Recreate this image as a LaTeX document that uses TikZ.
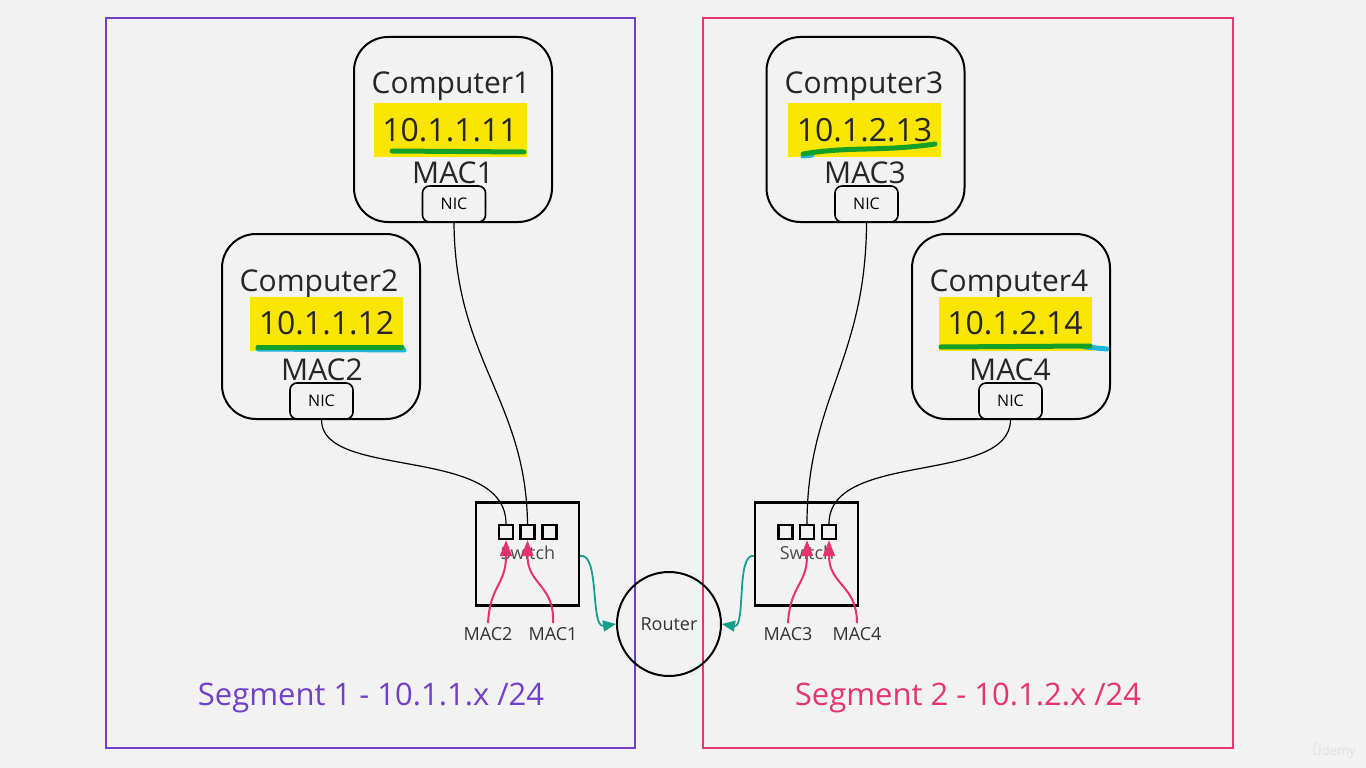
\documentclass[tikz,border=0pt]{standalone}
\usepackage{fontspec}
\setmainfont{Open Sans}
\usetikzlibrary{arrows.meta}
\definecolor{bg}{RGB}{242,242,242}
\definecolor{segone}{RGB}{112,64,200}
\definecolor{segtwo}{RGB}{232,52,110}
\definecolor{hilite}{RGB}{250,230,0}
\definecolor{pen}{RGB}{20,160,40}
\definecolor{pencyan}{RGB}{30,180,220}
\definecolor{macpink}{RGB}{232,50,110}
\definecolor{uplink}{RGB}{22,160,140}

\begin{document}
\begin{tikzpicture}[x=1pt, y=-1pt,
  pc/.style={rectangle, draw, line width=2pt, rounded corners=34pt, minimum width=198pt, minimum height=185pt},
  big/.style={inner sep=0pt, font=\fontsize{30}{36}\selectfont, text=black!85},
  ip/.style={big, font=\fontsize{32}{38}\selectfont, fill=hilite, minimum width=153pt, minimum height=54pt},
  nic/.style={rectangle, draw, fill=bg, line width=1.6pt, rounded corners=7pt, minimum width=63pt, minimum height=36pt, font=\fontsize{16}{18}\selectfont},
  switchbox/.style={rectangle, draw, line width=2.2pt, minimum size=103pt},
  port/.style={rectangle, draw, line width=2.4pt, minimum size=14pt, inner sep=0pt},
  small/.style={inner sep=4pt, font=\fontsize{18}{21}\selectfont, text=black!80},
  wire/.style={line width=1.2pt},
  macarr/.style={-{Triangle[length=16pt, width=12pt]}, line width=2pt, macpink},
  uparr/.style={-{Triangle[length=13pt, width=11pt]}, line width=1.8pt, uplink},
  uline/.style={line width=5pt, line cap=round}
]
  \useasboundingbox (0,0) rectangle (1366,768);
  \fill[bg] (0,0) rectangle (1366,768);

  % Segments
  \draw[segone, line width=2.5pt] (106,18) rectangle (635,748);
  \draw[segtwo, line width=2.5pt] (703,18) rectangle (1233,748);
  \node[font=\fontsize{31}{37}\selectfont, text=segone] (seg1) at (371,698) {Segment 1 - 10.1.1.x /24};
  \node[font=\fontsize{31}{37}\selectfont, text=segtwo] (seg2) at (968,698) {Segment 2 - 10.1.2.x /24};

  % Computers
  \node[pc] (c1) at (453,129.5) {};
  \node[big] (n1) at (451,86) {Computer1};
  \node[ip] (ip1) at (450,130) {10.1.1.11};
  \draw[uline, pen] (392,151) -- (524,152);
  \node[big] (m1) at (453,173) {MAC1};
  \node[nic] (nic1) at (454,204) {NIC};

  \node[pc] (c2) at (321,326.5) {};
  \node[big] (n2) at (319,284) {Computer2};
  \node[ip] (ip2) at (326.5,323.5) {10.1.1.12};
  \draw[uline, pencyan] (258,349) -- (404,350);
  \draw[uline, pen] (258,347) -- (402,347);
  \node[big] (m2) at (322,370) {MAC2};
  \node[nic] (nic2) at (321.5,401) {NIC};

  \node[pc] (c3) at (865.5,129.5) {};
  \node[big] (n3) at (864,86) {Computer3};
  \node[ip] (ip3) at (864.5,130) {10.1.2.13};
  \draw[uline, pencyan] (803,156) -- (812,155);
  \draw[uline, pen] (803,154) .. controls (850,146) and (880,152) .. (935,144);
  \node[big] (m3) at (865,173) {MAC3};
  \node[nic] (nic3) at (866.5,204) {NIC};

  \node[pc] (c4) at (1011,326.5) {};
  \node[big] (n4) at (1009,284) {Computer4};
  \node[ip] (ip4) at (1015,323.5) {10.1.2.14};
  \draw[uline, pencyan] (1085,347) -- (1107,349);
  \draw[uline, pen] (941,347) -- (1090,346);
  \node[big] (m4) at (1010,370) {MAC4};
  \node[nic] (nic4) at (1010.5,401) {NIC};

  % Switches and router
  \node[switchbox] (sw1) at (527.5,554) {};
  \node[port] (p11) at (506,532) {};
  \node[port] (p12) at (527.5,532) {};
  \node[port] (p13) at (549.5,532) {};
  \node[small, inner sep=0pt, text=black!70] (s1) at (528,553) {Switch};

  \node[switchbox] (sw2) at (806.5,554) {};
  \node[port] (p21) at (785.5,532) {};
  \node[port] (p22) at (807,532) {};
  \node[port] (p23) at (829,532) {};
  \node[small, inner sep=0pt, text=black!70] (s2) at (807,553) {Switch};

  \node[circle, draw, line width=2pt, minimum size=104pt, font=\fontsize{18}{22}\selectfont, text=black!80] (rt) at (669,624) {Router};

  % Cables
  \draw[wire] (nic1.south) .. controls (455,360) and (526,400) .. (p12.north);
  \draw[wire] (nic2.south) .. controls (321,480) and (506,445) .. (p11.north);
  \draw[wire] (nic3.south) .. controls (866,360) and (807,400) .. (p22.north);
  \draw[wire] (nic4.south) .. controls (1010,485) and (829,450) .. (p23.north);

  % MAC learning
  \node[small] (l2) at (488,634) {MAC2};
  \node[small] (l1) at (553,634) {MAC1};
  \node[small] (l3) at (788,634) {MAC3};
  \node[small] (l4) at (857,634) {MAC4};
  \draw[macarr] (l2.north) .. controls (490,585) and (506,585) .. (p11.south);
  \draw[macarr] (l1.north) .. controls (555,585) and (527.5,585) .. (p12.south);
  \draw[macarr] (l3.north) .. controls (790,585) and (807,585) .. (p22.south);
  \draw[macarr] (l4.north) .. controls (857,585) and (829,585) .. (p23.south);

  \draw[uparr] (sw1.east |- 0,556) .. controls (600,552) and (590,628) .. (rt.west);
  \draw[uparr] (sw2.west |- 0,556) .. controls (736,552) and (746,628) .. (rt.east);

  \node[font=\fontsize{13}{15}\selectfont, text=black!12] (wm) at (1334,751) {Ûdemy};
\end{tikzpicture}
\end{document}
